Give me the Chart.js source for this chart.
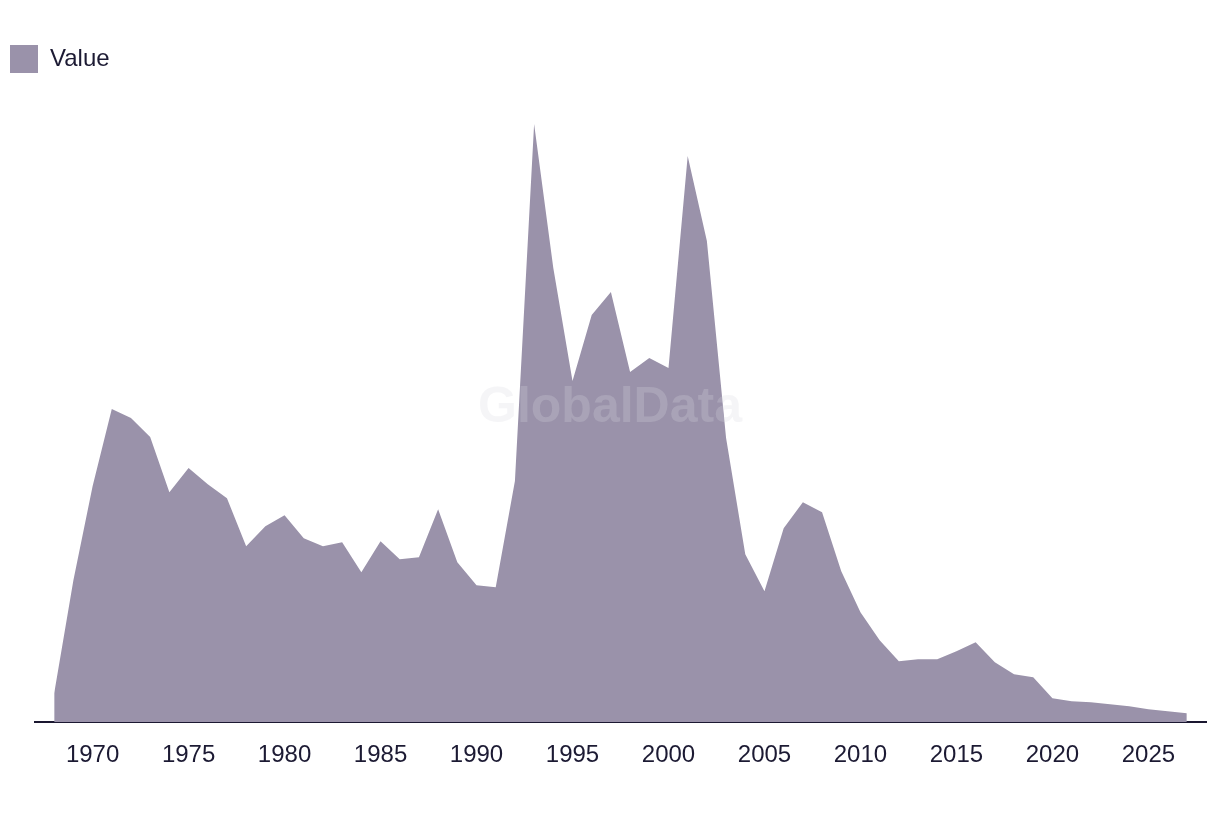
<!DOCTYPE html>
<html>
<head>
<meta charset="utf-8">
<script src="https://cdn.jsdelivr.net/npm/chart.js@4"></script>
<style>
  html, body { margin: 0; padding: 0; background: #ffffff; }
  #wrap { width: 1220px; height: 814px; position: relative; }
</style>
</head>
<body>
<div id="wrap"><canvas id="c"></canvas></div>
<script>
const years = [1968,1969,1970,1971,1972,1973,1974,1975,1976,1977,1978,1979,1980,1981,1982,1983,1984,1985,1986,1987,1988,1989,1990,1991,1992,1993,1994,1995,1996,1997,1998,1999,2000,2001,2002,2003,2004,2005,2006,2007,2008,2009,2010,2011,2012,2013,2014,2015,2016,2017,2018,2019,2020,2021,2022,2023,2024,2025,2026,2027];
const values = [29,142,236,313,304,285,230,254,238,224,176,196,207,184,176,180,150,181,163,165,213,160,137,135,241,598,454,341,407,430,350,364,354,566,481,284,168,131,194,220,210,151,110,82,61,63,63,71,80,60,48,45,24,21,20,18,16,13,11,9];
const tickYears = [1970,1975,1980,1985,1990,1995,2000,2005,2010,2015,2020,2025];
const seriesName = 'Value';

const fillColor = '#9a92aa';
const textColor = '#1c1a33';

const watermark = {
  id: 'watermark',
  afterDatasetsDraw(chart) {
    const ctx = chart.ctx;
    ctx.save();
    ctx.font = 'bold 50px "Liberation Sans", Arial, sans-serif';
    ctx.fillStyle = 'rgba(215,215,222,0.25)';
    ctx.textAlign = 'center';
    ctx.textBaseline = 'middle';
    ctx.fillText('GlobalData', 610, 408);
    ctx.restore();
  }
};

new Chart(document.getElementById('c'), {
  type: 'line',
  data: {
    datasets: [{
      label: seriesName,
      data: years.map((y, i) => ({ x: y, y: values[i] })),
      backgroundColor: fillColor,
      borderColor: fillColor,
      borderWidth: 0,
      pointRadius: 0,
      tension: 0,
      fill: 'origin'
    }]
  },
  options: {
    responsive: true,
    maintainAspectRatio: false,
    animation: false,
    layout: { padding: { top: 35, right: 14, bottom: 25, left: 0 } },
    plugins: {
      legend: {
        display: true,
        position: 'top',
        align: 'start',
        labels: {
          boxWidth: 28,
          boxHeight: 28,
          padding: 10,
          color: textColor,
          font: { family: '"Liberation Sans", Arial, sans-serif', size: 24 }
        }
      },
      tooltip: { enabled: false }
    },
    scales: {
      x: {
        type: 'linear',
        min: 1967,
        max: 2028,
        z: 1,
        grid: { display: false, drawTicks: false },
        border: { display: true, color: '#1a1730', width: 2 },
        afterBuildTicks: (scale) => { scale.ticks = tickYears.map(v => ({ value: v })); },
        ticks: {
          padding: 19,
          color: textColor,
          maxRotation: 0,
          autoSkip: false,
          font: { family: '"Liberation Sans", Arial, sans-serif', size: 24, lineHeight: 1.2 },
          callback: (v) => String(v)
        }
      },
      y: {
        min: 0,
        max: 639,
        grid: { display: false, drawTicks: false },
        border: { display: false },
        ticks: { display: false },
        afterFit: (scale) => { scale.width = 35; }
      }
    }
  },
  plugins: [watermark]
});
</script>
</body>
</html>
